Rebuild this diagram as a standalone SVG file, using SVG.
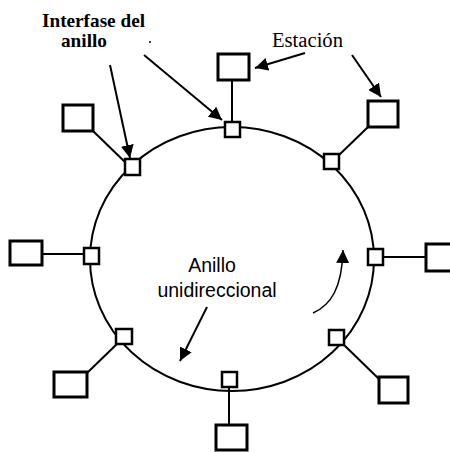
<svg xmlns="http://www.w3.org/2000/svg" width="450" height="452" viewBox="0 0 450 452">
  <style>
    .ring { fill: none; stroke: #000; stroke-width: 2; }
    .link { stroke: #000; stroke-width: 2; fill: none; }
    .iface { fill: #fff; stroke: #000; stroke-width: 2.5; }
    .station { fill: #fff; stroke: #000; stroke-width: 3; }
    .ptr { stroke: #000; stroke-width: 2; fill: none; marker-end: url(#head); }
    .flow { stroke: #000; stroke-width: 1.5; fill: none; marker-end: url(#head); }
    .lbl-b { font-family: "Liberation Serif", "Times New Roman", serif; font-weight: bold; font-size: 19px; fill: #000; }
    .lbl-s { font-family: "Liberation Serif", "Times New Roman", serif; font-size: 20px; fill: #000; }
    .lbl-c { font-family: "Liberation Sans", Arial, sans-serif; font-size: 19.5px; fill: #000; text-anchor: middle; }
  </style>
  <defs>
    <marker id="head" viewBox="0 0 12 12" refX="12" refY="6" markerWidth="13" markerHeight="13" markerUnits="userSpaceOnUse" orient="auto">
      <path d="M0,0 L12,6 L0,12 z" fill="#000"/>
    </marker>
  </defs>

  <!-- ring -->
  <ellipse class="ring" cx="232" cy="259" rx="142" ry="132"/>

  <!-- connectors: station to ring interface, and labels' pointers -->
  <g id="connectors">
    <line class="link" x1="232" y1="80" x2="232" y2="123"/>
    <line class="link" x1="368" y1="127" x2="338" y2="156"/>
    <line class="link" x1="382" y1="257" x2="426" y2="257"/>
    <line class="link" x1="343" y1="344" x2="379" y2="379"/>
    <line class="link" x1="229" y1="386" x2="229" y2="425"/>
    <line class="link" x1="118" y1="343" x2="87" y2="373"/>
    <line class="link" x1="42" y1="254" x2="84" y2="254"/>
    <line class="link" x1="93" y1="131" x2="126" y2="163"/>

    <line class="ptr" x1="110" y1="65" x2="130" y2="158"/>
    <line class="ptr" x1="144" y1="55" x2="222" y2="120"/>
    <line class="ptr" x1="305" y1="53" x2="255" y2="68"/>
    <line class="ptr" x1="352" y1="55" x2="381" y2="97"/>
    <line class="ptr" x1="207" y1="307" x2="180" y2="361"/>
    <path class="flow" d="M313,313 C331,305 342,288 343,250"/>
  </g>

  <!-- ring interfaces -->
  <g id="iface-top"><rect class="iface" x="225" y="122" width="15" height="15"/></g>
  <g id="iface-top-right"><rect class="iface" x="324" y="154" width="15" height="15"/></g>
  <g id="iface-right"><rect class="iface" x="368" y="249" width="15" height="16"/></g>
  <g id="iface-bottom-right"><rect class="iface" x="329" y="330" width="15" height="15"/></g>
  <g id="iface-bottom"><rect class="iface" x="222" y="372" width="15" height="15"/></g>
  <g id="iface-bottom-left"><rect class="iface" x="116" y="329" width="16" height="15"/></g>
  <g id="iface-left"><rect class="iface" x="84" y="248" width="15" height="16"/></g>
  <g id="iface-top-left"><rect class="iface" x="125" y="159" width="15" height="16"/></g>

  <!-- stations -->
  <g id="station-top"><rect class="station" x="218" y="54" width="31" height="26"/></g>
  <g id="station-top-right"><rect class="station" x="368" y="101" width="30" height="26"/></g>
  <g id="station-right"><rect class="station" x="426" y="244" width="31" height="27"/></g>
  <g id="station-bottom-right"><rect class="station" x="379" y="377" width="29" height="26"/></g>
  <g id="station-bottom"><rect class="station" x="216" y="425" width="31" height="25"/></g>
  <g id="station-bottom-left"><rect class="station" x="54" y="372" width="33" height="25"/></g>
  <g id="station-left"><rect class="station" x="10" y="241" width="32" height="24"/></g>
  <g id="station-top-left"><rect class="station" x="63" y="105" width="30" height="26"/></g>

  <!-- labels -->
  <text class="lbl-b" x="42" y="27" textLength="103" lengthAdjust="spacingAndGlyphs">Interfase del</text>
  <text class="lbl-b" x="61" y="47" textLength="46" lengthAdjust="spacingAndGlyphs">anillo</text>
  <circle cx="150" cy="42" r="1" fill="#000"/>
  <text class="lbl-s" x="272" y="47" textLength="71" lengthAdjust="spacingAndGlyphs">Estación</text>
  <text class="lbl-c" x="212" y="272">Anillo</text>
  <text class="lbl-c" x="217" y="297">unidireccional</text>
</svg>
